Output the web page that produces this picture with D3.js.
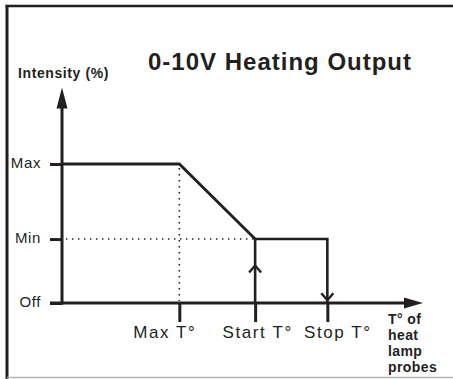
<!DOCTYPE html>
<html>
<head>
<meta charset="utf-8">
<script src="https://cdn.jsdelivr.net/npm/d3@7"></script>
<style>
  html, body { margin: 0; padding: 0; background: #fff; }
  svg { display: block; }
  text { font-family: "Liberation Sans", Arial, Helvetica, sans-serif; fill: #231f20; }
</style>
</head>
<body>
<svg id="chart" width="453" height="379"></svg>
<script>
// Output levels on the intensity axis (percent)
const levelNames = ["Off", "Min", "Max"];
const levelValues = [0, 46, 100];

// Probe temperature thresholds (relative units along the temperature axis)
const tempNames = ["Max T°", "Start T°", "Stop T°"];
const tempValues = [32.5, 53.5, 73.5];

// Proportional ramp: full output until Max T°, falling to Min at Start T°
const rampTemp = [0, 32.5, 53.5];
const rampLevel = [100, 100, 46];

// On/off hysteresis loop between Start T° and Stop T°
const loopTemp = [53.5, 53.5, 73.5, 73.5];
const loopLevel = [0, 46, 46, 0];

const title = "0-10V Heating Output";
const yTitle = "Intensity (%)";
const xTitle = ["T° of", "heat", "lamp", "probes"];

const ink = "#231f20";
const svg = d3.select("#chart");

const x = d3.scaleLinear().domain([0, 100]).range([62, 423]);
const y = d3.scaleLinear().domain([0, 100]).range([303, 164]);

// Outer frame: top and left rules, light bottom rule
svg.append("line").attr("x1", 5.5).attr("x2", 453).attr("y1", 6).attr("y2", 6)
  .attr("stroke", ink).attr("stroke-width", 2.5);
svg.append("line").attr("x1", 7).attr("x2", 7).attr("y1", 5).attr("y2", 379)
  .attr("stroke", ink).attr("stroke-width", 3);
svg.append("line").attr("x1", 7).attr("x2", 453).attr("y1", 377.5).attr("y2", 377.5)
  .attr("stroke", "#b5b5b5").attr("stroke-width", 1.5);

// Guide lines from the Max T° corner and the Min level
const dots = svg.append("g").attr("stroke", ink).attr("stroke-width", 1.6)
  .attr("stroke-dasharray", "1.4,4.6").attr("fill", "none");
dots.append("line")
  .attr("x1", x(tempValues[0])).attr("x2", x(tempValues[0]))
  .attr("y1", y(levelValues[2]) + 4).attr("y2", y(0) - 2);
dots.append("line")
  .attr("x1", x(0) + 4).attr("x2", x(tempValues[1]) - 2)
  .attr("y1", y(levelValues[1])).attr("y2", y(levelValues[1]));

// Left axis: ticks and level names
const yAxis = d3.axisLeft(y)
  .tickValues(levelValues)
  .tickFormat((d, i) => levelNames[i])
  .tickSize(12).tickPadding(9).tickSizeOuter(0);
const gy = svg.append("g").attr("transform", `translate(${x(0)},0)`).call(yAxis);
gy.select(".domain").remove();
gy.selectAll(".tick line").attr("stroke", ink).attr("stroke-width", 3);
gy.selectAll(".tick text")
  .attr("font-size", 15).attr("letter-spacing", 0.6)
  .attr("dy", "0.25em").style("fill", ink);

// Bottom axis: ticks hanging under the temperature axis
const xAxis = d3.axisBottom(x)
  .tickValues(tempValues)
  .tickFormat((d, i) => tempNames[i])
  .tickSize(19).tickPadding(6).tickSizeOuter(0);
const gx = svg.append("g").attr("transform", `translate(0,${y(0)})`).call(xAxis);
gx.select(".domain").remove();
gx.selectAll(".tick line").attr("stroke", ink).attr("stroke-width", 3);
const labelShift = [-15, 2, 10];
gx.selectAll(".tick text")
  .attr("font-size", 17).attr("letter-spacing", 1.6)
  .attr("y", 35).attr("dy", 0)
  .attr("dx", (d, i) => labelShift[i])
  .style("fill", ink);

// Axis lines with arrowheads
const axisTopY = y(155);
const axisEndX = x(100);
svg.append("line")
  .attr("x1", x(0)).attr("x2", x(0))
  .attr("y1", y(0) + 1.5).attr("y2", axisTopY + 18)
  .attr("stroke", ink).attr("stroke-width", 3);
svg.append("path")
  .attr("d", `M${x(0)},${axisTopY} L${x(0) - 5.5},${axisTopY + 21} L${x(0) + 5.5},${axisTopY + 21} Z`)
  .attr("fill", ink);
svg.append("line")
  .attr("x1", x(0) - 12).attr("x2", axisEndX - 16)
  .attr("y1", y(0)).attr("y2", y(0))
  .attr("stroke", ink).attr("stroke-width", 3);
svg.append("path")
  .attr("d", `M${axisEndX},${y(0)} L${axisEndX - 19},${y(0) - 5.5} L${axisEndX - 19},${y(0) + 5.5} Z`)
  .attr("fill", ink);

// Output curve
const line = d3.line().x(d => x(d[0])).y(d => y(d[1]));
svg.append("path")
  .datum(d3.zip(rampTemp, rampLevel))
  .attr("d", line)
  .attr("fill", "none").attr("stroke", ink).attr("stroke-width", 2.8)
  .attr("stroke-linejoin", "miter");
svg.append("path")
  .datum(d3.zip(loopTemp, loopLevel))
  .attr("d", line)
  .attr("fill", "none").attr("stroke", ink).attr("stroke-width", 2.6)
  .attr("stroke-linejoin", "miter");

// Direction chevrons on the loop
const upY = y(27);
const downY = y(2);
svg.append("path")
  .attr("d", `M${x(loopTemp[0]) - 6},${upY + 7} L${x(loopTemp[0])},${upY} L${x(loopTemp[0]) + 6},${upY + 7}`)
  .attr("fill", "none").attr("stroke", ink).attr("stroke-width", 2.4);
svg.append("path")
  .attr("d", `M${x(loopTemp[3]) - 6},${downY - 7} L${x(loopTemp[3])},${downY} L${x(loopTemp[3]) + 6},${downY - 7}`)
  .attr("fill", "none").attr("stroke", ink).attr("stroke-width", 2.4);

// Titles
svg.append("text").attr("x", 148).attr("y", 70)
  .attr("font-size", 24).attr("font-weight", "bold").attr("letter-spacing", 1)
  .text(title);
svg.append("text").attr("x", 18).attr("y", 78)
  .attr("font-size", 14).attr("font-weight", "bold").attr("letter-spacing", 0.6)
  .text(yTitle);
svg.append("text").attr("x", 388).attr("y", 324)
  .attr("font-size", 14).attr("font-weight", "bold").attr("letter-spacing", 0.4)
  .selectAll("tspan").data(xTitle).join("tspan")
  .attr("x", 388).attr("dy", (d, i) => i === 0 ? 0 : 16)
  .text(d => d);
</script>
</body>
</html>
